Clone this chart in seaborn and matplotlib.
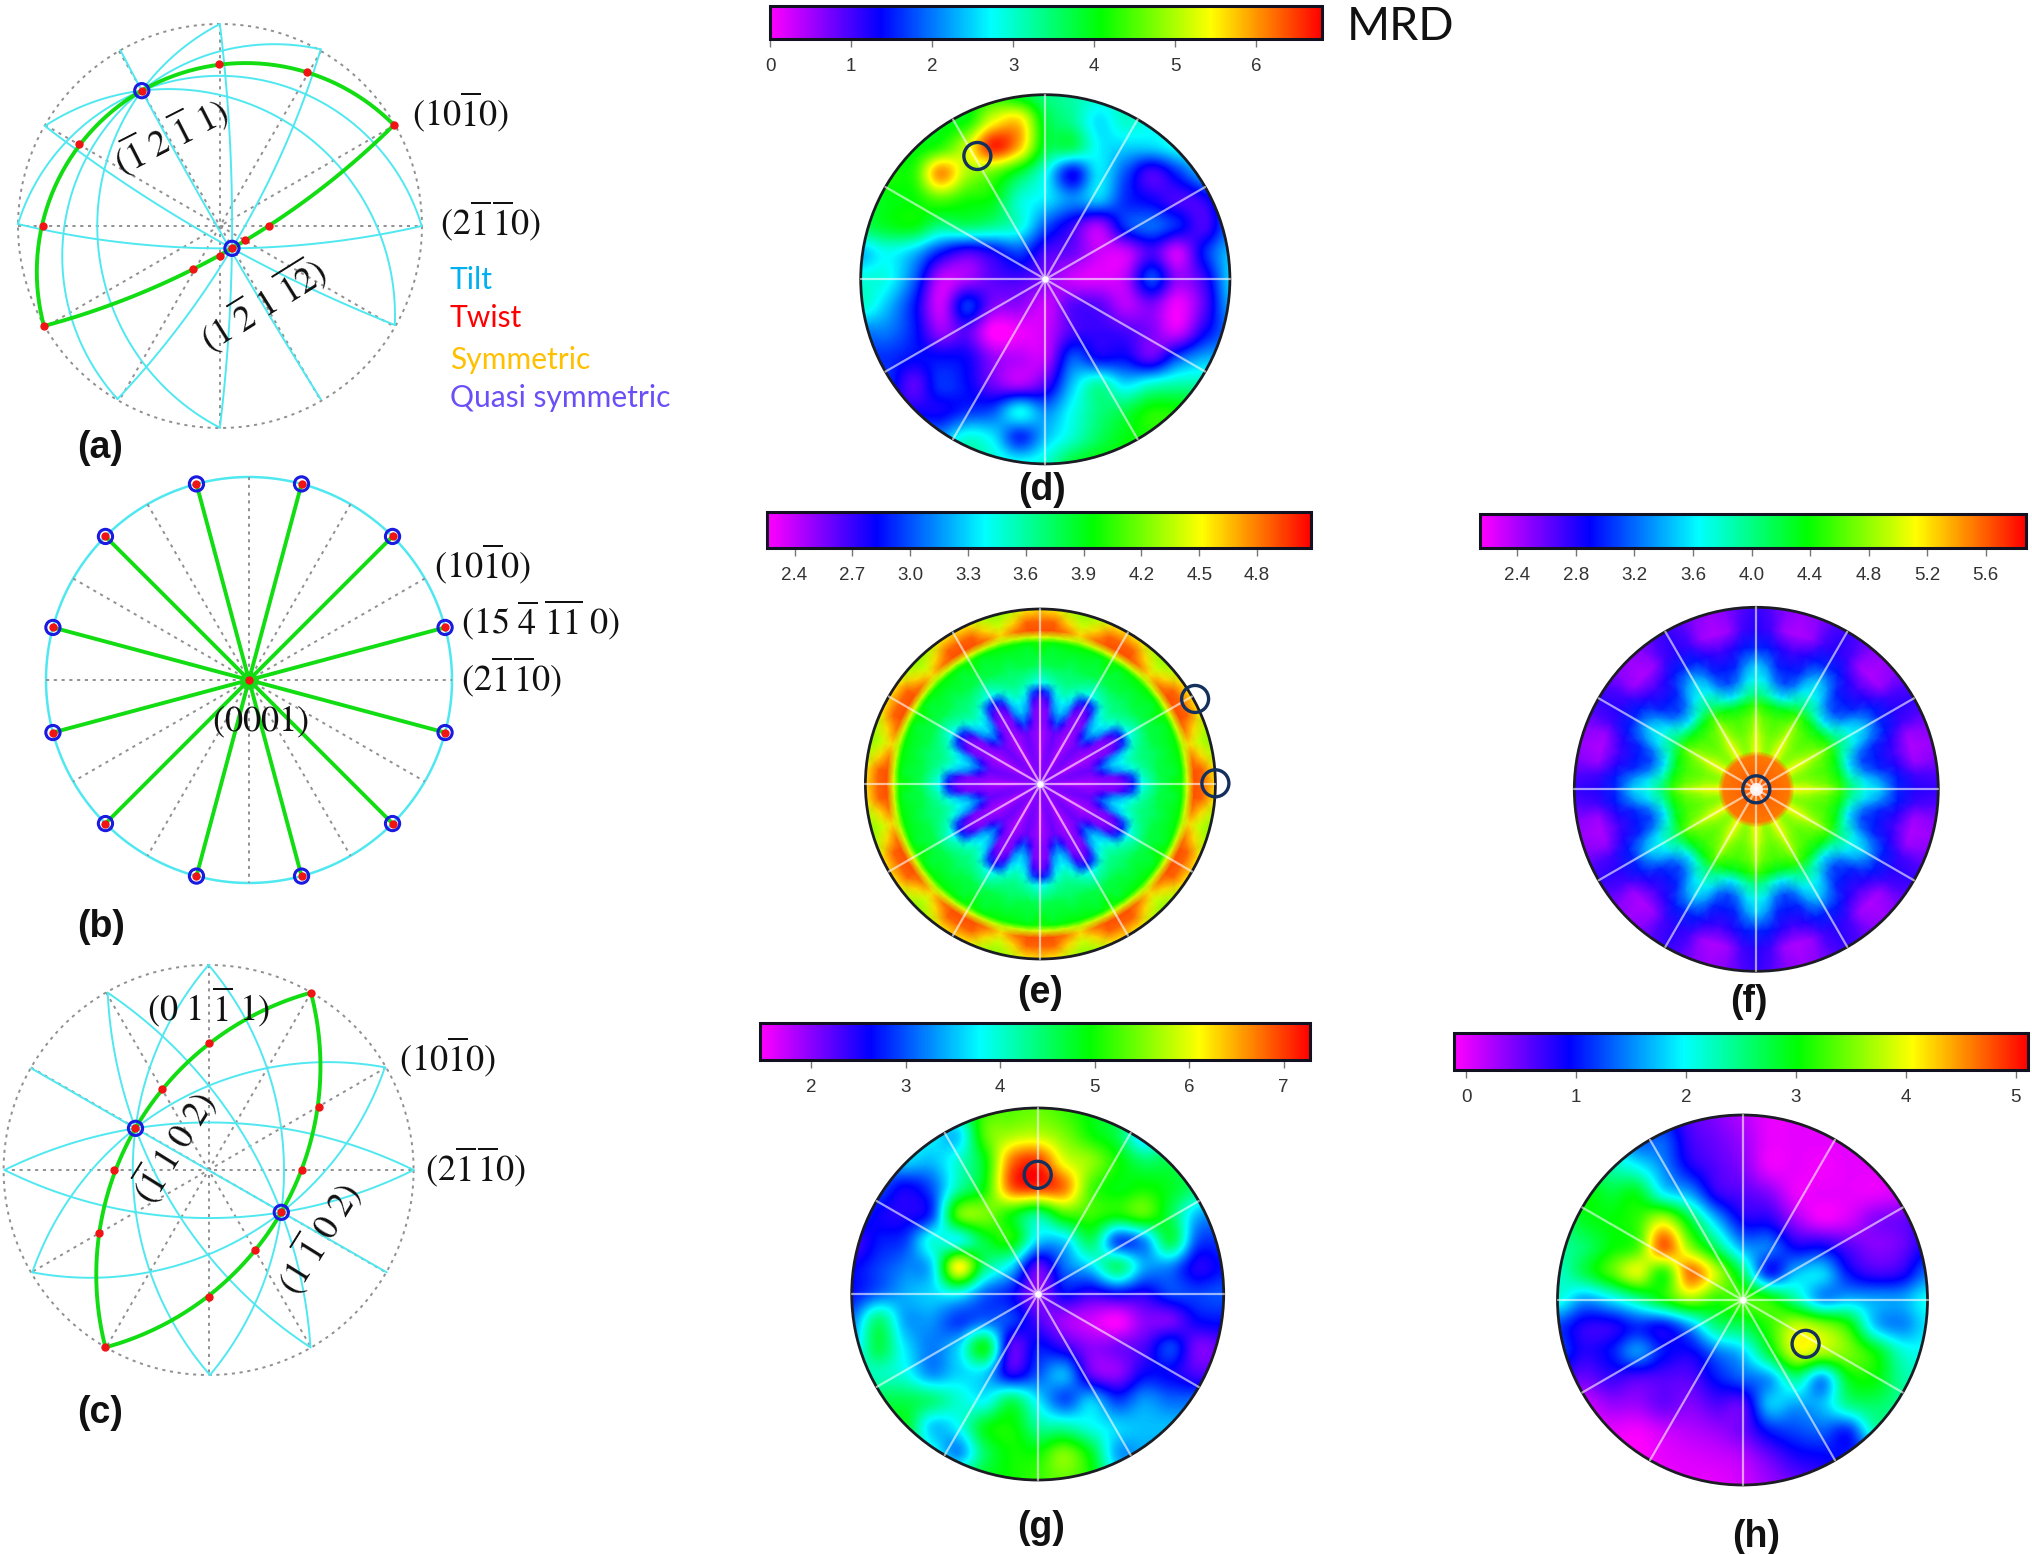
import numpy as np
import seaborn as sns
import matplotlib.pyplot as plt
from matplotlib.colors import LinearSegmentedColormap, Normalize
from matplotlib.patches import Circle

sns.set_theme(style="white")
plt.rcParams["font.family"] = ["Liberation Sans", "DejaVu Sans"]
plt.rcParams["mathtext.fontset"] = "stix"

# pole figure values in MRD on a 15x15 grid
grid_d = [
    [4.0,4.0,4.0,4.0,4.0,4.2,3.8,3.4,3.2,3.0,3.0,3.0,3.0,3.0,3.0],
    [4.0,4.0,4.0,4.0,4.1,5.3,5.6,3.8,3.3,2.6,3.0,2.8,2.8,2.8,2.8],
    [4.0,4.0,4.0,4.3,5.2,6.6,5.8,3.8,3.6,2.7,2.5,2.5,2.8,3.0,3.0],
    [4.0,4.2,4.3,6.0,5.0,4.6,3.8,2.8,1.4,2.6,1.8,1.0,1.6,2.4,2.6],
    [3.8,4.0,4.1,4.5,4.2,4.0,3.0,2.6,2.1,2.4,1.6,1.3,1.0,1.2,2.2],
    [3.6,3.9,4.0,3.4,3.5,3.3,2.9,1.8,1.1,0.5,1.6,1.9,1.5,1.0,2.0],
    [2.4,2.8,2.4,1.5,1.0,1.3,1.7,1.0,0.8,0.3,0.3,1.0,0.3,1.5,2.4],
    [2.9,2.8,1.9,0.4,0.5,0.9,1.0,0.7,0.3,0.2,0.4,1.7,0.6,1.1,2.5],
    [3.0,2.4,1.5,0.3,1.6,0.7,0.6,0.3,0.9,0.9,0.4,0.7,0.1,0.9,2.3],
    [2.0,2.0,1.5,0.6,0.9,0.0,0.1,0.3,1.0,1.1,1.0,0.7,0.3,1.3,2.0],
    [1.6,1.6,1.4,1.4,1.3,0.6,0.4,0.4,1.8,1.4,1.4,0.9,1.8,2.3,2.3],
    [1.6,1.6,0.9,1.6,1.4,0.8,0.5,1.0,2.4,3.2,2.6,3.0,3.2,3.2,3.2],
    [1.3,1.3,1.3,1.3,1.6,1.8,2.7,2.1,2.8,3.4,3.7,4.2,4.2,4.2,4.2],
    [2.2,2.2,2.2,2.2,2.9,2.6,1.6,2.4,3.0,3.6,4.0,4.2,4.2,4.2,4.2],
    [3.3,3.3,3.3,3.3,3.3,3.0,2.8,3.0,3.8,4.1,4.1,4.1,4.1,4.1,4.1],
]
grid_g = [
    [4.2,4.2,4.2,4.2,4.4,5.2,5.3,5.4,5.2,4.9,4.6,4.4,4.4,4.4,4.4],
    [3.9,3.9,3.9,3.8,3.6,5.3,5.7,5.8,5.5,5.0,4.6,3.6,4.2,4.2,4.2],
    [3.4,3.4,3.6,3.5,4.0,4.9,6.7,7.0,6.0,5.6,5.0,4.5,4.6,4.3,4.3],
    [3.0,3.0,2.6,3.0,4.2,5.0,6.8,7.0,6.7,5.3,4.9,5.0,4.8,4.4,4.0],
    [3.0,2.6,2.5,2.9,5.3,5.5,5.0,4.4,5.2,5.2,5.0,5.3,4.6,3.5,3.3],
    [2.3,2.7,2.9,3.9,3.9,4.7,5.0,3.6,3.6,4.5,3.0,3.3,4.6,3.0,2.9],
    [2.6,2.9,3.2,3.6,6.1,4.4,3.6,2.2,3.1,3.6,4.4,3.4,3.2,2.5,2.7],
    [2.7,3.1,3.4,3.6,3.8,3.1,2.7,2.0,2.6,2.4,2.6,2.5,2.9,2.9,3.0],
    [3.2,4.4,3.4,3.3,2.9,3.1,2.9,2.3,1.9,1.7,1.5,2.0,2.1,2.6,2.7],
    [3.5,4.6,3.7,3.2,3.6,4.8,2.3,2.7,2.4,2.0,2.1,2.3,2.9,2.1,2.2],
    [4.1,4.1,3.9,3.3,3.6,3.6,2.5,3.0,3.4,2.2,2.0,2.6,2.6,2.3,2.3],
    [4.6,4.6,4.6,4.4,4.0,3.8,4.5,3.7,3.0,3.5,2.9,3.3,3.1,3.1,3.1],
    [4.8,4.8,4.8,3.6,3.8,4.8,5.0,4.3,4.2,3.9,3.6,3.5,3.5,3.5,3.5],
    [4.8,4.8,4.5,4.0,3.3,4.5,5.0,5.0,5.5,4.8,3.4,3.4,3.4,3.4,3.4],
    [4.8,4.8,4.8,4.8,4.6,4.8,5.0,5.2,5.4,5.0,3.8,3.4,3.4,3.4,3.4],
]
grid_h = [
    [1.2,1.2,1.2,1.2,1.0,0.6,0.4,0.2,0.0,0.0,0.0,0.0,0.0,0.0,0.0],
    [2.2,2.2,1.8,1.3,1.3,0.7,0.5,0.3,0.0,0.0,0.0,0.0,0.0,0.0,0.0],
    [2.6,2.6,2.3,2.0,1.5,0.9,0.6,0.4,0.0,0.0,-0.05,0.0,0.0,0.0,0.0],
    [2.7,3.0,2.8,2.9,2.0,1.6,0.8,0.6,0.4,0.0,0.0,0.0,0.0,0.1,0.2],
    [2.5,2.9,3.0,3.2,3.8,2.8,1.7,0.9,0.8,0.3,0.0,0.1,0.4,0.5,0.7],
    [2.4,2.6,3.0,3.3,4.7,3.6,2.6,1.6,1.4,0.9,0.9,0.6,0.4,0.5,0.9],
    [2.2,2.7,3.3,3.9,3.2,4.6,3.8,2.6,1.1,1.7,1.8,1.0,0.7,0.8,1.4],
    [2.1,1.6,1.9,2.4,3.0,3.6,3.2,3.3,3.1,2.4,1.6,1.7,1.6,1.6,2.0],
    [1.2,0.8,0.8,1.1,1.0,1.6,2.5,2.7,3.2,3.8,3.6,3.1,1.8,1.5,1.9],
    [1.2,0.8,1.0,1.5,1.0,0.9,1.4,1.8,2.8,3.9,3.7,3.5,3.0,2.2,2.0],
    [0.7,0.5,0.7,0.6,0.6,0.6,1.0,1.3,1.6,2.4,1.6,2.9,3.0,2.4,2.2],
    [0.3,0.1,0.3,0.3,0.5,0.4,0.6,0.6,1.7,1.6,1.7,2.4,2.6,2.4,2.2],
    [0.0,0.0,0.0,-0.05,0.1,0.2,0.3,0.5,1.0,1.2,1.3,1.1,2.2,2.2,2.2],
    [0.0,0.0,0.0,-0.1,0.0,0.05,0.1,0.2,0.5,0.8,0.9,1.0,1.0,1.0,1.0],
    [0.0,0.0,0.0,0.0,0.0,0.0,0.0,0.1,0.3,0.5,0.7,0.7,0.7,0.7,0.7],
]

# e and f repeat every 30 degrees: one row per radius, values at 0, 5, 10 and 15 degrees
radii_e = [0, .15, .30, .36, .42, .48, .53, .58, .68, .78, .81, .84, .88, .93, 1.0]
table_e = [
    [2.50,2.50,2.50,2.50],[2.35,2.50,2.55,2.55],[2.45,2.50,2.55,2.60],[2.50,2.55,2.75,3.00],
    [2.50,2.55,3.10,3.25],[2.55,2.70,3.25,3.40],[2.80,3.00,3.45,3.55],[3.40,3.50,3.60,3.65],
    [3.75,3.80,3.80,3.75],[3.95,3.85,3.90,3.90],[4.00,3.95,3.95,3.95],[4.45,4.40,4.40,4.35],
    [4.90,4.90,4.80,4.60],[4.85,4.85,4.60,4.40],[4.60,4.55,4.35,4.25],
]
radii_f = [0, .04, .185, .21, .30, .40, .46, .52, .60, .68, .78, .88, 1.0]
table_f = [
    [5.85,5.85,5.85,5.85],[5.60,5.60,5.60,5.60],[5.50,5.50,5.50,5.50],[5.15,5.00,4.85,4.80],
    [5.05,4.85,4.75,4.70],[4.85,4.65,4.60,4.55],[4.55,4.45,4.35,4.30],[4.05,3.95,3.75,3.60],
    [3.70,3.55,3.25,3.10],[3.50,3.30,3.00,2.95],[3.00,2.95,2.80,2.70],[2.80,2.70,2.45,2.38],
    [2.75,2.65,2.50,2.45],
]

ticks_d = [0, 1, 2, 3, 4, 5, 6]
ticks_e = [2.4, 2.7, 3.0, 3.3, 3.6, 3.9, 4.2, 4.5, 4.8]
ticks_f = [2.4, 2.8, 3.2, 3.6, 4.0, 4.4, 4.8, 5.2, 5.6]
ticks_g = [2, 3, 4, 5, 6, 7]
ticks_h = [0, 1, 2, 3, 4, 5]

# circled spots on the pole figures (fractions of the radius)
spots_d = [(-.368, .668)]
spots_e = [(.884, .486), (1.0, .004)]
spots_f = [(0, 0)]
spots_g = [(0, .641)]
spots_h = [(.341, -.237)]

spoke_angles = [0, 30, 60, 90, 120, 150]

a_tilt = [
    [(268,150),(316,272),(715,1198)], [(490,72),(316,272),(490,1283)], [(715,148),(316,272),(262,1197)],
    [(100,378),(316,272),(880,975)], [(40,672),(316,272),(940,678)],
    [(490,72),(517,745),(490,1283)], [(715,148),(517,745),(262,1197)], [(100,378),(517,745),(880,975)],
    [(40,672),(517,745),(940,678)],
]
a_green = [[(878,375),(316,272),(98,978)], [(878,375),(517,745),(98,978)]]
a_red_x = [878,685,488,316,177,95,98,600,545,517,490,430]
a_red_y = [375,215,193,272,433,677,978,677,720,745,767,807]
a_pole_x = [316, 517]
a_pole_y = [272, 745]

b_angles = [15, 45, 75, 105, 135, 165, 195, 225, 255, 285, 315, 345]

c_tilt = [
    [(70,355),(302,535),(862,967)], [(240,128),(302,535),(692,1192)], [(465,45),(302,535),(468,1275)],
    [(858,352),(302,535),(72,967)], [(922,660),(302,535),(10,660)],
    [(10,660),(627,787),(922,660)], [(72,967),(627,787),(858,352)], [(240,128),(627,787),(692,1192)],
    [(465,45),(627,787),(468,1275)],
]
c_green = [[(693,128),(302,535),(235,1192)], [(693,128),(627,787),(235,1192)]]
c_red_x = [693,465,360,302,255,220,235,710,673,627,568,465]
c_red_y = [128,280,418,535,660,850,1192,470,660,787,900,1040]
c_pole_x = [302, 627]
c_pole_y = [535, 787]

rainbow = LinearSegmentedColormap.from_list(
    "pf", ["#ff00ff", "#0000ff", "#00ffff", "#00ff00", "#ffff00", "#ff0000"])

W, H = 2032, 1554
fig = plt.figure(figsize=(W / 100, H / 100), dpi=100, facecolor="white")
over = fig.add_axes([0, 0, 1, 1])
over.set_axis_off()
over.set_zorder(10)

CYAN = "#50e8f0"
GREEN = "#12dc12"
GRAY = "#909090"
DOTS = (0, (1.6, 2.4))


def box(x0, y0, x1, y1):
    return fig.add_axes([x0 / W, 1 - y1 / H, (x1 - x0) / W, (y1 - y0) / H])


def pole_figure(cx, cy, r, bar, vmin, vmax, ticks, fmt, spots, grid=None, radii=None, table=None, glow=22):
    ax = box(cx - r - 3, cy - r - 3, cx + r + 3, cy + r + 3)
    cax = box(*bar)
    values = np.array(grid if grid is not None else table)
    # seaborn gives the colour bar, the smooth surface goes on top of the hidden mesh
    sns.heatmap(values, ax=ax, cbar_ax=cax, cmap=rainbow, vmin=vmin, vmax=vmax,
                xticklabels=False, yticklabels=False,
                cbar_kws={"orientation": "horizontal", "ticks": ticks, "format": fmt})
    cbar = ax.collections[0].colorbar
    cbar.outline.set_linewidth(2.2)
    cbar.outline.set_edgecolor("#111122")
    cax.tick_params(axis="x", length=6, width=1, color="#777777", labelsize=13.5,
                    labelcolor="#333333", pad=8, bottom=True)
    ax.collections[0].set_visible(False)
    norm = Normalize(vmin, vmax)
    clip = Circle((0, 0), 1, transform=ax.transData)
    if grid is not None:
        h = 1 / 7
        im = ax.imshow(values, extent=[-1 - h / 2, 1 + h / 2, -1 - h / 2, 1 + h / 2], origin="upper",
                       cmap=rainbow, norm=norm, interpolation="catrom")
        im.set_clip_path(clip)
    else:
        one_period = values[:, [0, 1, 2, 3, 2, 1]]
        z = np.hstack([np.tile(one_period, (1, 12)), values[:, [0]]])
        th = np.deg2rad(np.arange(73) * 5)
        rr, tt = np.meshgrid(radii, th, indexing="ij")
        mesh = ax.pcolormesh(rr * np.cos(tt), rr * np.sin(tt), z, shading="gouraud", cmap=rainbow, norm=norm)
        mesh.set_clip_path(clip)
    lim = 1 + 3 / r
    ax.set_xlim(-lim, lim)
    ax.set_ylim(-lim, lim)
    ax.set_aspect("equal")
    ax.set_axis_off()
    for a in spoke_angles:
        t = np.deg2rad(a)
        ax.plot([-np.cos(t), np.cos(t)], [-np.sin(t), np.sin(t)], color="white", alpha=.6, lw=1.6)
    sns.scatterplot(x=[0], y=[0], s=glow, color="white", alpha=.85, linewidth=0, ax=ax, zorder=5)
    ax.set_xlim(-lim, lim)
    ax.set_ylim(-lim, lim)
    ax.set_xlabel("")
    ax.set_ylabel("")
    ax.add_patch(Circle((0, 0), 1, fill=False, ec="#1c1c24", lw=2))
    # the circles sit on the rim in (e), draw them on the full figure axes
    for u, v in spots:
        over.add_patch(Circle((cx + u * r, cy - v * r), 13.5, fill=False, ec="#14305c", lw=2.4, zorder=20))


def arc(p0, p1, p2):
    (ax_, ay), (bx, by), (cx_, cy_) = p0, p1, p2
    d = 2 * (ax_ * (by - cy_) + bx * (cy_ - ay) + cx_ * (ay - by))
    if abs(d) < 900:
        return [ax_, bx, cx_], [ay, by, cy_]
    ux = ((ax_**2 + ay**2) * (by - cy_) + (bx**2 + by**2) * (cy_ - ay) + (cx_**2 + cy_**2) * (ay - by)) / d
    uy = ((ax_**2 + ay**2) * (cx_ - bx) + (bx**2 + by**2) * (ax_ - cx_) + (cx_**2 + cy_**2) * (bx - ax_)) / d
    r = np.hypot(ax_ - ux, ay - uy)
    t0 = np.arctan2(ay - uy, ax_ - ux)
    t1 = np.arctan2(by - uy, bx - ux)
    t2 = np.arctan2(cy_ - uy, cx_ - ux)
    # keep going the way that passes through the via point
    dt1 = (t1 - t0) % (2 * np.pi)
    dt2 = (t2 - t0) % (2 * np.pi)
    if dt1 > dt2:
        dt2 -= 2 * np.pi
    t = t0 + np.linspace(0, dt2, 70)
    return ux + r * np.cos(t), uy + r * np.sin(t)


def spokes(cx, cy, r):
    for a in spoke_angles:
        ang = np.deg2rad(a)
        over.plot([cx - r * np.cos(ang), cx + r * np.cos(ang)], [cy - r * np.sin(ang), cy + r * np.sin(ang)],
                  color=GRAY, lw=1.4, ls=DOTS)


def diagram(cx, cy, r, sx, sy, y0, tilt, green, red_x, red_y, pole_x, pole_y):
    def to_px(p):
        return (p[0] / sx, y0 + p[1] / sy)

    t = np.linspace(0, 2 * np.pi, 200)
    over.plot(cx + r * np.cos(t), cy + r * np.sin(t), color=GRAY, lw=1.4, ls=DOTS)
    spokes(cx, cy, r)
    for line in tilt:
        xs, ys = arc(*[to_px(p) for p in line])
        sns.lineplot(x=np.asarray(xs), y=np.asarray(ys), sort=False, estimator=None, color=CYAN, lw=1.4, ax=over)
    for line in green:
        xs, ys = arc(*[to_px(p) for p in line])
        sns.lineplot(x=np.asarray(xs), y=np.asarray(ys), sort=False, estimator=None, color=GREEN, lw=2.8, ax=over)
    rx = np.array(red_x) / sx
    ry = y0 + np.array(red_y) / sy
    sns.scatterplot(x=np.array(pole_x) / sx, y=y0 + np.array(pole_y) / sy, s=105, facecolor="none",
                    edgecolor="#1a1ae0", linewidth=2.2, ax=over, zorder=5)
    sns.scatterplot(x=rx, y=ry, s=36, color="#f01414", edgecolor="#f01414", linewidth=0, ax=over, zorder=6)


pole_figure(1045.3, 279.3, 184.6, (770, 6, 1322, 39), 0, 6.81, ticks_d, "%d", spots_d, grid=grid_d)
pole_figure(1040.4, 784, 175, (767, 512, 1311, 548), 2.257, 5.08, ticks_e, "%.1f", spots_e, radii=radii_e, table=table_e)
pole_figure(1756.3, 789.3, 182, (1480, 514, 2026, 548), 2.144, 5.876, ticks_f, "%.1f", spots_f, radii=radii_f, table=table_f, glow=90)
pole_figure(1037.7, 1294, 186, (760, 1023, 1310, 1060), 1.46, 7.28, ticks_g, "%d", spots_g, grid=grid_g)
pole_figure(1742.5, 1300, 185, (1454, 1033, 2028, 1070), -.11, 5.11, ticks_h, "%d", spots_h, grid=grid_h)

# (a)
diagram(220, 226, 202, 2.229, 3, 0, a_tilt, a_green, a_red_x, a_red_y, a_pole_x, a_pole_y)

# (b)
bx, by, br = 249, 680, 203
th = np.linspace(0, 2 * np.pi, 200)
sns.lineplot(x=bx + br * np.cos(th), y=by + br * np.sin(th), sort=False, estimator=None, color=CYAN, lw=1.8, ax=over)
spokes(bx, by, br)
b_x = bx + br * np.cos(np.deg2rad(b_angles))
b_y = by - br * np.sin(np.deg2rad(b_angles))
for x_, y_ in zip(b_x, b_y):
    sns.lineplot(x=[bx, x_], y=[by, y_], sort=False, estimator=None, color=GREEN, lw=2.8, ax=over)
sns.scatterplot(x=b_x, y=b_y, s=105, facecolor="none", edgecolor="#1a1ae0", linewidth=2.2, ax=over, zorder=5)
sns.scatterplot(x=list(b_x) + [bx], y=list(b_y) + [by], s=36, color="#f01414", edgecolor="#f01414", linewidth=0, ax=over, zorder=6)

# (c)
diagram(208.6, 1170, 205, 2.229, 3, 950, c_tilt, c_green, c_red_x, c_red_y, c_pole_x, c_pole_y)

over.set_xlim(0, W)
over.set_ylim(H, 0)
over.set_xlabel("")
over.set_ylabel("")

math_labels = [
    (460, 112, r"$(10\overline{1}0)$", 0),
    (491, 221, r"$(2\overline{1}\,\overline{1}0)$", 0),
    (170, 136, r"$(\overline{1}\ 2\ \overline{1}\ 1)$", 27),
    (263, 305, r"$(1\ \overline{2}\ 1\ \overline{12})$", 32),
    (482, 564, r"$(10\overline{1}0)$", 0),
    (540, 620, r"$(15\ \overline{4}\ \overline{11}\ 0)$", 0),
    (512, 677, r"$(2\overline{1}\,\overline{1}0)$", 0),
    (260, 722, r"$(0001)$", 0),
    (208, 1007, r"$(0\ 1\ \overline{1}\ 1)$", 0),
    (447, 1057, r"$(10\overline{1}0)$", 0),
    (476, 1167, r"$(2\overline{1}\,\overline{1}0)$", 0),
    (173, 1147, r"$(\overline{1}\ 1\ 0\ 2)$", 58),
    (318, 1238, r"$(1\ \overline{1}\ 0\ 2)$", 58),
]
for x_, y_, s, rot in math_labels:
    over.text(x_, y_, s, fontsize=26, ha="center", va="center", rotation=rot, color="#111111", zorder=10)

legend_names = ["Tilt", "Twist", "Symmetric", "Quasi symmetric"]
legend_colors = ["#00b0f0", "#ff0000", "#ffc000", "#6a4ff6"]
legend_y = [280, 318, 360, 398]
for name, col, y_ in zip(legend_names, legend_colors, legend_y):
    over.text(450, y_, name, color=col, fontsize=21.6, family="Lato", ha="left", va="center")

over.text(1347, 27, "MRD", fontsize=33.5, family="Lato", ha="left", va="center", color="#111111")

panel_labels = [("(a)", 100, 448), ("(b)", 101, 927), ("(c)", 100, 1413), ("(d)", 1042, 490), ("(e)", 1040, 993),
                ("(f)", 1749, 1002), ("(g)", 1041, 1528), ("(h)", 1756, 1537)]
for s, x_, y_ in panel_labels:
    over.text(x_, y_, s, fontsize=27, fontweight="bold", ha="center", va="center", color="#111111")

fig.savefig("out.png", dpi=100)
